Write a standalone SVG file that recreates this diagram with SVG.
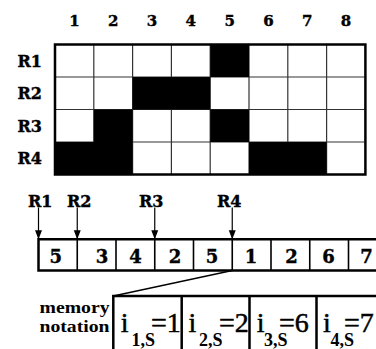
<svg xmlns="http://www.w3.org/2000/svg" width="376" height="349" viewBox="0 0 376 349">
<defs>
<style>
.b{font-family:"DejaVu Serif",serif;font-weight:bold;fill:#000;stroke:#000;stroke-width:0.4}
.col{font-size:15px;text-anchor:middle}
.row{font-size:16px;text-anchor:end}
.num{font-size:18px;text-anchor:middle}
.ptr{font-size:16px}
.mn{font-family:"Liberation Serif","Times New Roman",serif;font-weight:bold;font-size:17px;fill:#000}
.eq{font-family:"Liberation Serif","Times New Roman",serif;font-size:28px;fill:#000;stroke:#000;stroke-width:0.5}
.sub{font-family:"Liberation Serif","Times New Roman",serif;font-size:18px;font-weight:bold;fill:#000}
.blk{fill:#000}
.inner{stroke:#333;stroke-width:1.2;fill:none}
.thick{stroke:#000;stroke-width:2.5;fill:none}
.div{stroke:#000;stroke-width:1.6;fill:none}
.arr{stroke:#000;stroke-width:1.2;fill:none;marker-end:url(#ah)}
</style>
<marker id="ah" markerUnits="userSpaceOnUse" markerWidth="9" markerHeight="9" refX="9" refY="4" orient="auto"><path d="M0,0.5 L9,4 L0,7.5 Z" fill="#000"/></marker>
</defs>
<rect width="376" height="349" fill="#fff"/>
<g id="column-labels" class="b col">
<text x="74.4" y="26">1</text><text x="113.2" y="26">2</text><text x="152" y="26">3</text><text x="190.8" y="26">4</text>
<text x="229.6" y="26">5</text><text x="268.4" y="26">6</text><text x="307.2" y="26">7</text><text x="346" y="26">8</text>
</g>
<g id="row-labels" class="b row">
<text x="42" y="66.5">R1</text><text x="42" y="99">R2</text><text x="42" y="131.5">R3</text><text x="42" y="164">R4</text>
</g>
<g id="grid">
<rect x="55" y="44.5" width="310.4" height="130" fill="#fff"/>
<path class="inner" d="M93.8,44.5V174.5M132.6,44.5V174.5M171.4,44.5V174.5M210.2,44.5V174.5M249,44.5V174.5M287.8,44.5V174.5M326.6,44.5V174.5M55,77H365.4M55,109.5H365.4M55,142H365.4"/>
<rect class="blk" x="210.2" y="44.5" width="38.8" height="32.5"/>
<rect class="blk" x="132.6" y="77" width="77.6" height="32.5"/>
<rect class="blk" x="93.8" y="109.5" width="38.8" height="32.5"/>
<rect class="blk" x="210.2" y="109.5" width="38.8" height="32.5"/>
<rect class="blk" x="55" y="142" width="77.6" height="32.5"/>
<rect class="blk" x="249" y="142" width="77.6" height="32.5"/>
<rect class="thick" x="55" y="44.5" width="310.4" height="130"/>
</g>
<g id="pointer-labels" class="b ptr">
<text x="28" y="206.5">R1</text><text x="67" y="206.5">R2</text><text x="139" y="206.5">R3</text><text x="217" y="206.5">R4</text>
</g>
<g id="array">
<path class="thick" d="M380,239.3H38.5V270.5H380" stroke-width="2"/>
<path class="div" d="M77.25,239.3V270.5M116,239.3V270.5M154.75,239.3V270.5M193.5,239.3V270.5M232.25,239.3V270.5M271,239.3V270.5M309.75,239.3V270.5M348.5,239.3V270.5"/>
<g class="b num">
<text x="55.7" y="262.5">5</text><text x="102" y="262.5">3</text><text x="135.5" y="262.5">4</text><text x="175" y="262.5">2</text>
<text x="212" y="262.5">5</text><text x="251" y="262.5">1</text><text x="291.5" y="262.5">2</text><text x="328.5" y="262.5">6</text><text x="366.5" y="262.5">7</text>
</g>
</g>
<g id="connectors">
<line class="arr" x1="38.5" y1="207.5" x2="38.5" y2="239.3"/>
<line class="arr" x1="77.25" y1="207.5" x2="77.25" y2="239.3"/>
<line class="arr" x1="154.75" y1="207.5" x2="154.75" y2="239.3"/>
<line class="arr" x1="232.25" y1="207.5" x2="232.25" y2="239.3"/>
<line x1="232.25" y1="270.5" x2="113.3" y2="296" stroke="#000" stroke-width="1.3"/>
</g>
<g id="memory-notation">
<text class="mn" x="39.5" y="312.5" textLength="70" lengthAdjust="spacingAndGlyphs">memory</text>
<text class="mn" x="39.5" y="331.5" textLength="70" lengthAdjust="spacingAndGlyphs">notation</text>
<path class="thick" d="M113.3,352V296H380M181.7,296V352M249.5,296V352M316.5,296V352"/>
<text class="eq" x="120.8" y="331.5">i</text><text class="sub" x="131.5" y="346">1,S</text><text class="eq" x="151" y="331.5">=1</text>
<text class="eq" x="188.4" y="331.5">i</text><text class="sub" x="199" y="346">2,S</text><text class="eq" x="219" y="331.5">=2</text>
<text class="eq" x="256.8" y="331.5">i</text><text class="sub" x="264" y="346">3,S</text><text class="eq" x="279" y="331.5">=6</text>
<text class="eq" x="323" y="331.5">i</text><text class="sub" x="330.5" y="346">4,S</text><text class="eq" x="344" y="331.5">=7</text>
</g>
</svg>
